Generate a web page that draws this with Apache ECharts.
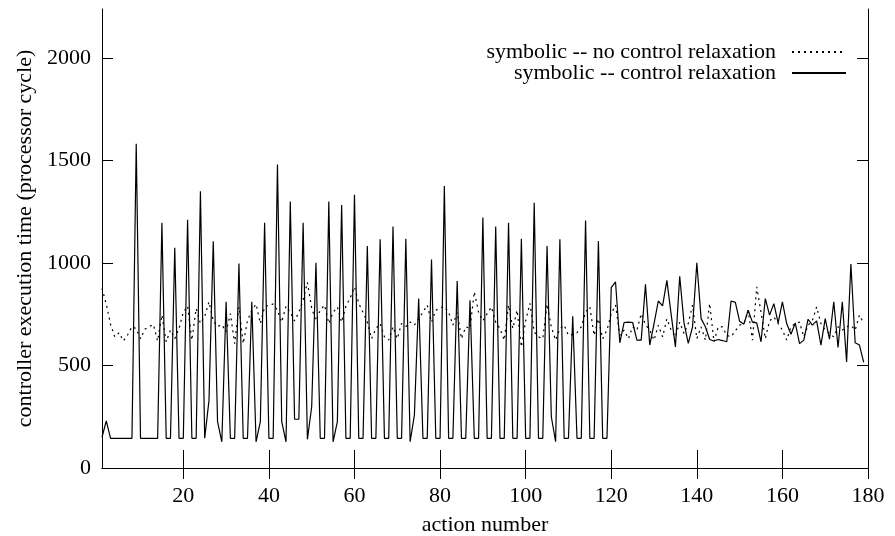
<!DOCTYPE html>
<html>
<head>
<meta charset="utf-8">
<script src="https://cdn.jsdelivr.net/npm/echarts@6/dist/echarts.min.js"></script>
<style>html,body{margin:0;padding:0;background:#fff}#c{width:895px;height:536px}</style>
</head>
<body>
<div id="c"></div>
<script>
// "symbolic -- no control relaxation" (dotted), actions 1..179
var noRelax = [
876,800,700,640,660,620,650,690,680,631,677,690,700,620,746,616,673,631,680,760,
790,624,778,705,740,811,718,690,700,664,753,607,786,607,720,770,800,705,786,795,
800,770,712,790,760,718,760,820,906,780,718,770,795,705,760,786,712,790,830,884,
803,760,712,631,680,705,640,624,689,631,705,690,712,697,728,760,795,712,770,780,
789,760,697,760,631,689,681,860,760,718,753,786,712,680,624,795,681,770,591,718,
803,664,640,631,800,689,624,680,697,647,652,660,689,760,786,647,728,631,673,753,
795,647,673,631,689,673,753,700,673,624,697,640,728,673,640,712,656,705,795,631,
689,624,803,616,689,689,647,640,670,697,705,770,624,884,760,631,718,737,705,673,
624,689,705,712,640,697,720,786,705,673,656,640,689,673,689,697,673,746,705
];
// "symbolic -- control relaxation" (solid), actions 1..179
var relax = [
150,230,145,145,145,145,145,145,1582,145,145,145,145,145,1197,145,145,1075,145,145,
1212,145,145,1350,145,330,1106,226,128,811,145,145,998,145,145,811,128,226,1197,145,
145,1481,226,128,1301,238,238,1197,140,299,1002,145,145,1301,128,226,1283,145,145,1334,
145,145,1083,145,145,1116,145,145,1179,145,145,1119,128,258,827,145,145,1017,145,145,
1376,145,145,913,145,145,819,145,145,1222,145,145,1178,145,145,1197,145,145,1119,145,
145,1295,145,145,1083,250,128,1116,145,145,741,145,145,1208,145,145,1108,145,145,880,
908,611,710,712,710,624,624,897,600,705,815,791,916,750,591,936,708,608,689,1002,
729,689,627,620,627,622,616,815,808,716,702,770,712,708,616,827,746,802,708,811,
705,653,708,607,624,726,697,718,600,729,629,811,588,811,518,996,611,600,515
];
var xTicks = [20, 40, 60, 80, 100, 120, 140, 160, 180];
var yTicks = [0, 500, 1000, 1500, 2000];
var seriesNames = ['symbolic -- no control relaxation', 'symbolic -- control relaxation'];

function pairs(arr) { return arr.map(function (v, i) { return [i + 1, v]; }); }

var FONT = 'Liberation Serif';
var FS = 22;
var txt = { fontFamily: FONT, fontSize: FS, color: '#000' };
var axisLine = { show: true, lineStyle: { color: '#000', width: 1 } };
var plain = function (v) { return String(v); };

var chart = echarts.init(document.getElementById('c'), null, { renderer: 'canvas' });
chart.setOption({
  animation: false,
  backgroundColor: '#fff',
  grid: { left: 102, right: 27, top: 9, bottom: 68, containLabel: false, outerBoundsMode: 'none' },
  legend: [
    { data: [seriesNames[0]], right: 48, top: 41, padding: 0, align: 'right', itemWidth: 54, itemHeight: 14,
      itemStyle: { opacity: 0 },
      textStyle: { fontFamily: FONT, fontSize: FS, color: '#000', padding: [0, 11, 0, 0] } },
    { data: [seriesNames[1]], right: 48, top: 62, padding: 0, align: 'right', itemWidth: 54, itemHeight: 14,
      itemStyle: { opacity: 0 },
      textStyle: { fontFamily: FONT, fontSize: FS, color: '#000', padding: [0, 11, 0, 0] } }
  ],
  xAxis: [
    { type: 'value', min: 1, max: 180, position: 'bottom',
      name: 'action number', nameLocation: 'middle', nameGap: 46, nameTextStyle: txt,
      axisLine: axisLine,
      axisTick: { inside: true, length: 18, customValues: xTicks, lineStyle: { color: '#000' } },
      axisLabel: { customValues: xTicks, margin: 17, formatter: plain, fontFamily: FONT, fontSize: FS, color: '#000' },
      splitLine: { show: false } },
    { type: 'value', min: 1, max: 180, position: 'top',
      axisLine: axisLine,
      axisTick: { inside: true, length: 11, customValues: xTicks, lineStyle: { color: '#000' } },
      axisLabel: { show: false }, splitLine: { show: false } }
  ],
  yAxis: [
    { type: 'value', min: 0, max: 2240, position: 'left',
      name: 'controller execution time (processor cycle)', nameLocation: 'middle', nameGap: 63,
      nameRotate: 90, nameTextStyle: txt,
      axisLine: axisLine,
      axisTick: { inside: true, length: 11, customValues: yTicks, lineStyle: { color: '#000' } },
      axisLabel: { customValues: yTicks, margin: 11, formatter: plain, fontFamily: FONT, fontSize: FS, color: '#000' },
      splitLine: { show: false } },
    { type: 'value', min: 0, max: 2240, position: 'right',
      axisLine: axisLine,
      axisTick: { inside: true, length: 11, customValues: yTicks, lineStyle: { color: '#000' } },
      axisLabel: { show: false }, splitLine: { show: false } }
  ],
  series: [
    { name: seriesNames[0], type: 'line', data: pairs(noRelax), showSymbol: false, symbol: 'none',
      lineStyle: { color: '#000', width: 1.2, type: [2, 4] }, itemStyle: { color: '#000' } },
    { name: seriesNames[1], type: 'line', data: pairs(relax), showSymbol: false, symbol: 'none',
      lineStyle: { color: '#000', width: 1.2, type: 'solid' }, itemStyle: { color: '#000' } }
  ]
});
</script>
</body>
</html>
